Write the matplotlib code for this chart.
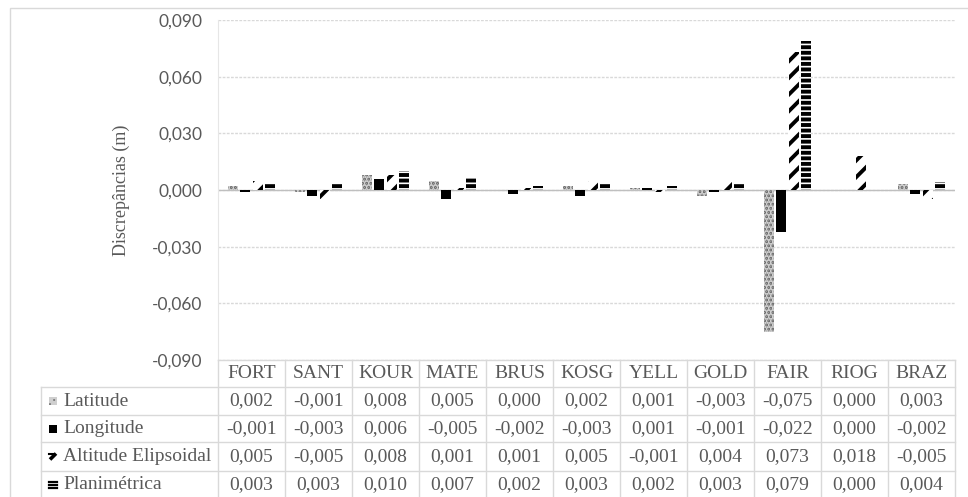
#Bar chart of station discrepancies with an Excel-like data table under it
import numpy as np
import matplotlib
matplotlib.use('Agg')
from matplotlib import pyplot as plt
from matplotlib.patches import Rectangle
from matplotlib.lines import Line2D
from matplotlib.ticker import FixedLocator, FuncFormatter

stations = ['FORT', 'SANT', 'KOUR', 'MATE', 'BRUS', 'KOSG', 'YELL', 'GOLD', 'FAIR', 'RIOG', 'BRAZ']
latitude = [0.002, -0.001, 0.008, 0.005, 0.000, 0.002, 0.001, -0.003, -0.075, 0.000, 0.003]
longitude = [-0.001, -0.003, 0.006, -0.005, -0.002, -0.003, 0.001, -0.001, -0.022, 0.000, -0.002]
altitude = [0.005, -0.005, 0.008, 0.001, 0.001, 0.005, -0.001, 0.004, 0.073, 0.018, -0.005]
planimetrica = [0.003, 0.003, 0.010, 0.007, 0.002, 0.003, 0.002, 0.003, 0.079, 0.000, 0.004]
series_names = ['Latitude', 'Longitude', 'Altitude Elipsoidal', 'Planimétrica']
y_ticks = [-0.090, -0.060, -0.030, 0.000, 0.030, 0.060, 0.090]

series = [latitude, longitude, altitude, planimetrica]
#face colour, hatch colour, hatch pattern
styles = [('#6e6e6e', '#d0d0d0', '....'),
          ('black', 'black', None),
          ('white', 'black', '//'),
          ('white', 'black', '---')]

W, H = 968, 497
plt.rcParams['hatch.linewidth'] = 2.8
grey_text = '#595959'
line_col = '#d9d9d9'

def fx(x):
    return x / W

def fy(y):
    return 1 - y / H

fig = plt.figure(figsize=(W / 100, H / 100), dpi=100)
left, right, top, bottom = 218, 955, 20, 360
ax = fig.add_axes([fx(left), fy(bottom), fx(right - left), (bottom - top) / H])

n = len(stations)
x = np.arange(n)
width = 0.15
pitch = 0.187
for i, (vals, (fc, hc, hatch)) in enumerate(zip(series, styles)):
    ax.bar(x + (i - 1.5) * pitch, vals, width, facecolor=fc, edgecolor=hc,
           hatch=hatch, linewidth=0, zorder=3)

ax.set_xlim(-0.5, n - 0.5)
ax.set_ylim(-0.09, 0.09)
ax.yaxis.set_major_locator(FixedLocator(y_ticks))
ax.yaxis.set_major_formatter(FuncFormatter(lambda v, p: ('%.3f' % round(v, 3)).replace('.', ',').replace('-0,000', '0,000')))
ax.set_xticks([])
ax.tick_params(axis='y', length=0, pad=11, labelsize=12.5, labelcolor=grey_text)
for lab in ax.get_yticklabels():
    lab.set_fontfamily('Lato')
ax.grid(axis='y', color=line_col, linestyle=(0, (2, 1)), linewidth=1, zorder=0)
ax.axhline(0, color='#bfbfbf', linewidth=1, zorder=2)
for s in ['top', 'right', 'bottom']:
    ax.spines[s].set_visible(False)
ax.spines['left'].set_color('#e6e6e6')

fig.text(fx(121), fy(190), 'Discrepâncias (m)', rotation=90, ha='center', va='center',
         family='Liberation Serif', fontsize=13, color=grey_text)

#outer chart border
fig.add_artist(Rectangle((fx(10), fy(510)), fx(980), (510 - 8) / H, transform=fig.transFigure,
                         fill=False, edgecolor=line_col, linewidth=1))

#data table
col_w = (right - left) / n
rows_y = [360, 387, 415, 442, 471, 498]
tab_left = 41

def hline(y, x0, x1, col=line_col, lw=1):
    fig.add_artist(Line2D([fx(x0), fx(x1)], [fy(y), fy(y)], color=col, linewidth=lw, transform=fig.transFigure))

def vline(xp, y0, y1):
    fig.add_artist(Line2D([fx(xp), fx(xp)], [fy(y0), fy(y1)], color=line_col, linewidth=1, transform=fig.transFigure))

hline(rows_y[0], left, right)
for y in rows_y[1:]:
    hline(y, tab_left, right)
vline(tab_left, rows_y[1], rows_y[-1])
for k in range(n + 1):
    vline(left + k * col_w, rows_y[0], rows_y[-1])

tfont = dict(family='Liberation Serif', fontsize=14, color=grey_text, va='center')
for k, st in enumerate(stations):
    fig.text(fx(left + (k + 0.5) * col_w), fy((rows_y[0] + rows_y[1]) / 2), st, ha='center', **tfont)

#legend keys drawn by hand, hatches are too coarse for an 8 px square
def legend_key(r, yc):
    x0, x1, y0, y1 = 49, 57, yc - 4, yc + 4
    if r == 0:
        fig.add_artist(Rectangle((fx(x0), fy(y1)), fx(8), 8 / H, transform=fig.transFigure,
                                 facecolor='#7a7a7a', edgecolor='#cfcfcf', hatch='xxxx', linewidth=0))
    elif r == 1:
        fig.add_artist(Rectangle((fx(x0), fy(y1)), fx(8), 8 / H, transform=fig.transFigure,
                                 facecolor='black', linewidth=0))
    elif r == 2:
        fig.add_artist(Line2D([fx(x0 + 1), fx(x1 - 1)], [fy(y1 - 1), fy(y0 + 1)], color='black',
                              linewidth=2.6, solid_capstyle='butt', transform=fig.transFigure))
        hline(y0 + 1.2, x0, x0 + 4, col='black', lw=1.5)
    else:
        for yy in (y0 + 1, yc, y1 - 1):
            hline(yy, x0, x1, col='black', lw=1.6)

for r, (name, vals) in enumerate(zip(series_names, series)):
    yc = (rows_y[r + 1] + rows_y[r + 2]) / 2
    legend_key(r, yc)
    fig.text(fx(63), fy(yc), name, ha='left', **tfont)
    for k, v in enumerate(vals):
        fig.text(fx(left + (k + 0.5) * col_w), fy(yc), ('%.3f' % v).replace('.', ','), ha='center', **tfont)

fig.savefig('out.png', dpi=100)
